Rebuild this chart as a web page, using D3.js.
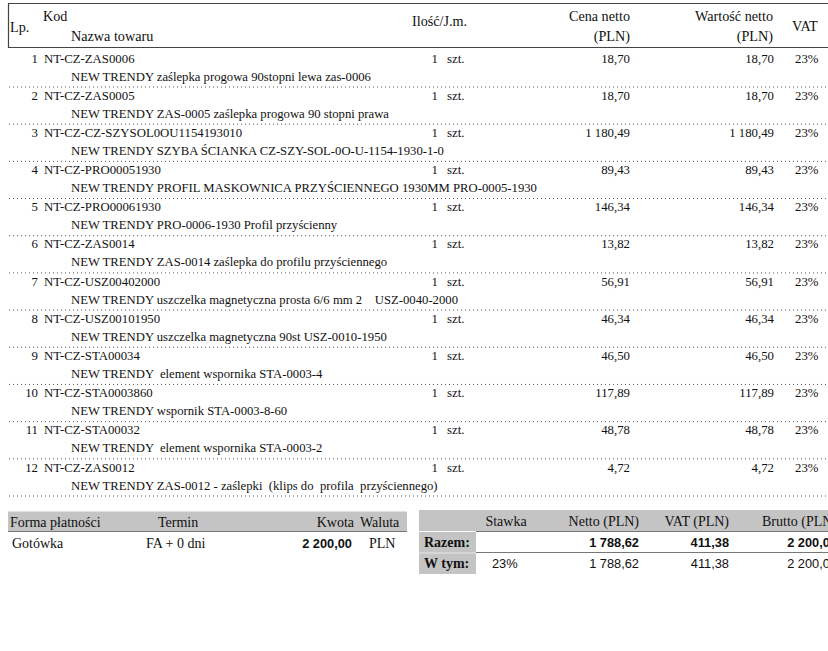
<!DOCTYPE html>
<html>
<head>
	<meta charset="UTF-8">
	<title>Faktura - pozycje</title>
	<script src="https://cdn.jsdelivr.net/npm/d3@7"></script>
	<style>
		body {
			padding: 0;
			margin: 0;
			background: #fff;
		}
	</style>
</head>
<body>
	<script>
		var w = 828,
			h = 651;
		var serif = "'Liberation Serif', 'Times New Roman', serif",
			sans = "'Liberation Sans', Arial, sans-serif";

		// pozycje faktury
		var lp = [1, 2, 3, 4, 5, 6, 7, 8, 9, 10, 11, 12];
		var codes = ["NT-CZ-ZAS0006", "NT-CZ-ZAS0005", "NT-CZ-CZ-SZYSOL0OU1154193010", "NT-CZ-PRO00051930",
			"NT-CZ-PRO00061930", "NT-CZ-ZAS0014", "NT-CZ-USZ00402000", "NT-CZ-USZ00101950",
			"NT-CZ-STA00034", "NT-CZ-STA0003860", "NT-CZ-STA00032", "NT-CZ-ZAS0012"];
		var names = ["NEW TRENDY zaślepka progowa 90stopni lewa zas-0006",
			"NEW TRENDY ZAS-0005 zaślepka progowa 90 stopni prawa",
			"NEW TRENDY SZYBA ŚCIANKA CZ-SZY-SOL-0O-U-1154-1930-1-0",
			"NEW TRENDY PROFIL MASKOWNICA PRZYŚCIENNEGO 1930MM PRO-0005-1930",
			"NEW TRENDY PRO-0006-1930 Profil przyścienny",
			"NEW TRENDY ZAS-0014 zaślepka do profilu przyściennego",
			"NEW TRENDY uszczelka magnetyczna prosta 6/6 mm 2    USZ-0040-2000",
			"NEW TRENDY uszczelka magnetyczna 90st USZ-0010-1950",
			"NEW TRENDY  element wspornika STA-0003-4",
			"NEW TRENDY wspornik STA-0003-8-60",
			"NEW TRENDY  element wspornika STA-0003-2",
			"NEW TRENDY ZAS-0012 - zaślepki  (klips do  profila  przyściennego)"];
		var qty = [1, 1, 1, 1, 1, 1, 1, 1, 1, 1, 1, 1];
		var units = ["szt.", "szt.", "szt.", "szt.", "szt.", "szt.", "szt.", "szt.", "szt.", "szt.", "szt.", "szt."];
		var prices = ["18,70", "18,70", "1 180,49", "89,43", "146,34", "13,82", "56,91", "46,34", "46,50", "117,89", "48,78", "4,72"];
		var values = ["18,70", "18,70", "1 180,49", "89,43", "146,34", "13,82", "56,91", "46,34", "46,50", "117,89", "48,78", "4,72"];
		var vatRates = ["23%", "23%", "23%", "23%", "23%", "23%", "23%", "23%", "23%", "23%", "23%", "23%"];

		// platnosc
		var payHeaders = ["Forma płatności", "Termin", "Kwota", "Waluta"];
		var payRow = ["Gotówka", "FA + 0 dni", "2 200,00", "PLN"];

		// podsumowanie VAT
		var sumHeaders = ["Stawka", "Netto (PLN)", "VAT (PLN)", "Brutto (PLN)"];
		var sumLabels = ["Razem:", "W tym:"];
		var sumRows = [
			["", "1 788,62", "411,38", "2 200,00"],
			["23%", "1 788,62", "411,38", "2 200,00"]
		];

		var svg = d3.select("body").append("svg")
			.attr("width", w)
			.attr("height", h)
			.attr("font-family", serif)
			.attr("font-size", 12.8)
			.attr("fill", "#111");

		// rows on a linear scale
		var y = d3.scaleLinear().domain([0, lp.length - 1]).range([62.5, 471.5]);

		// header box
		svg.append("path")
			.attr("d", "M828,3.5H8.5V47.5H828")
			.attr("fill", "none")
			.attr("stroke", "#444")
			.attr("stroke-width", 1.2);

		var head = svg.append("g").attr("font-size", 14.2);
		function ht(x, yy, s, anchor) {
			head.append("text").attr("x", x).attr("y", yy).attr("text-anchor", anchor || "start").text(s);
		}
		ht(43, 21, "Kod");
		ht(10, 32, "Lp.");
		ht(71, 41, "Nazwa towaru");
		ht(412, 26, "Ilość/J.m.");
		ht(630, 21, "Cena netto", "end");
		ht(630, 41, "(PLN)", "end");
		ht(773, 21, "Wartość netto", "end");
		ht(773, 41, "(PLN)", "end");
		ht(792, 31, "VAT");

		var rows = svg.selectAll("g.row")
			.data(lp)
			.enter().append("g")
			.attr("class", "row")
			.attr("transform", function (d, i) { return "translate(0," + y(i) + ")"; });

		rows.append("text").attr("x", 38).attr("text-anchor", "end").text(function (d) { return d; });
		rows.append("text").attr("x", 44).text(function (d, i) { return codes[i]; });
		rows.append("text").attr("x", 71).attr("y", 18).attr("font-size", 12.7).style("white-space", "pre")
			.text(function (d, i) { return names[i]; });
		rows.append("text").attr("x", 438).attr("text-anchor", "end").text(function (d, i) { return qty[i]; });
		rows.append("text").attr("x", 447).text(function (d, i) { return units[i]; });
		rows.append("text").attr("x", 630).attr("text-anchor", "end").text(function (d, i) { return prices[i]; });
		rows.append("text").attr("x", 774).attr("text-anchor", "end").text(function (d, i) { return values[i]; });
		rows.append("text").attr("x", 795).text(function (d, i) { return vatRates[i]; });
		rows.append("line")
			.attr("x1", 9).attr("x2", 828)
			.attr("y1", 24.5).attr("y2", 24.5)
			.attr("stroke", "#555")
			.attr("stroke-width", 1)
			.attr("stroke-dasharray", "1,3");

		// payment table
		var pay = svg.append("g").attr("font-size", 14);
		pay.append("rect").attr("x", 8).attr("y", 511.5).attr("width", 399).attr("height", 19.5).attr("fill", "#c4c4c4");
		pay.append("line").attr("x1", 8).attr("x2", 407).attr("y1", 531.5).attr("y2", 531.5).attr("stroke", "#777");
		var payX = [10, 158, 354, 360],
			payAnchor = ["start", "start", "end", "start"];
		pay.selectAll("text.ph").data(payHeaders).enter().append("text")
			.attr("class", "ph")
			.attr("x", function (d, i) { return payX[i]; })
			.attr("y", 527)
			.attr("text-anchor", function (d, i) { return payAnchor[i]; })
			.text(function (d) { return d; });
		var payRX = [12, 146, 352, 369];
		pay.selectAll("text.pr").data(payRow).enter().append("text")
			.attr("class", "pr")
			.attr("x", function (d, i) { return payRX[i]; })
			.attr("y", 548)
			.attr("text-anchor", function (d, i) { return payAnchor[i]; })
			.attr("font-family", function (d, i) { return i == 2 ? sans : null; })
			.attr("font-size", function (d, i) { return i == 2 ? 12.8 : null; })
			.attr("font-weight", function (d, i) { return i == 2 ? "bold" : null; })
			.text(function (d) { return d; });

		// VAT summary
		var sum = svg.append("g").attr("font-size", 14);
		sum.append("rect").attr("x", 419).attr("y", 510).attr("width", 409).attr("height", 21).attr("fill", "#c4c4c4");
		sum.append("line").attr("x1", 476).attr("x2", 828).attr("y1", 531.5).attr("y2", 531.5).attr("stroke", "#777");
		sum.append("line").attr("x1", 476).attr("x2", 828).attr("y1", 552.5).attr("y2", 552.5).attr("stroke", "#777");
		var sumX = [506, 639, 729, 762],
			sumAnchor = ["middle", "end", "end", "start"];
		sum.selectAll("text.sh").data(sumHeaders).enter().append("text")
			.attr("class", "sh")
			.attr("x", function (d, i) { return sumX[i]; })
			.attr("y", 526)
			.attr("text-anchor", function (d, i) { return sumAnchor[i]; })
			.text(function (d) { return d; });

		var sy = d3.scaleBand().domain(sumLabels).range([532, 574]).paddingInner(0.03);
		var sr = sum.selectAll("g.sr").data(sumLabels).enter().append("g")
			.attr("class", "sr")
			.attr("transform", function (d) { return "translate(0," + sy(d) + ")"; });
		sr.append("rect").attr("x", 419).attr("width", 57).attr("height", sy.bandwidth()).attr("fill", "#c4c4c4");
		sr.append("text").attr("x", 424).attr("y", 15).attr("font-weight", "bold").text(function (d) { return d; });
		var valX = [492, 639, 729, 837],
			valAnchor = ["start", "end", "end", "end"];
		sr.each(function (d, r) {
			d3.select(this).selectAll("text.v").data(sumRows[r]).enter().append("text")
				.attr("class", "v")
				.attr("font-family", sans)
				.attr("font-size", 12.8)
				.attr("x", function (v, i) { return valX[i]; })
				.attr("y", 15)
				.attr("text-anchor", function (v, i) { return valAnchor[i]; })
				.attr("font-weight", r == 0 ? "bold" : null)
				.text(function (v) { return v; });
		});
	</script>
</body>
</html>
